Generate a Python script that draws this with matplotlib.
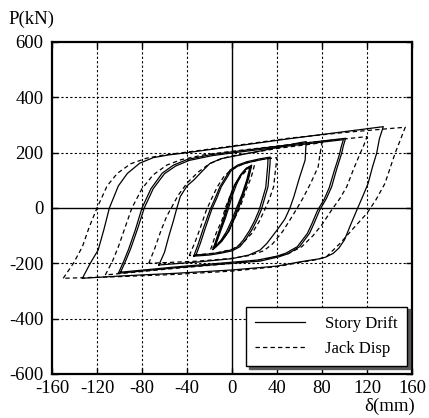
import matplotlib
matplotlib.use("Agg")
from matplotlib import pyplot as plt

plt.rcParams['font.family'] = ['Liberation Serif', 'DejaVu Serif']
plt.rcParams['axes.unicode_minus'] = False

# Story drift loops (mm, kN), each traced from the negative peak, up to the
# positive peak and back down
drift_a_x = [-133, -126, -119, -114, -109, -101, -93, -82, -70, -56, -40, 0, 50, 100, 134.5,
             131, 128.6, 125, 121, 116, 111, 105, 100, 95, 90, 83, 77, 60, 40, 0, -50, -100, -133]
drift_a_p = [-254, -200, -152, -80, 0, 80, 125, 162, 182, 192, 200, 222, 250, 276, 294,
             250, 198, 150, 89, 40, -7, -65, -115, -145, -164, -178, -184, -195, -210, -224, -236, -246, -254]

drift_b1_x = [-101, -96, -92, -86, -80, -72, -62, -52, -40, -20, 0, 50, 101,
              99, 97.5, 93, 88.6, 84, 78, 73, 69, 60, 50, 42, 25, 0, -50, -101]
drift_b1_p = [-236, -190, -150, -80, 0, 70, 126, 155, 175, 192, 203, 228, 252,
              225, 198, 140, 77, 35, -7, -55, -91, -140, -165, -176, -192, -200, -216, -236]
drift_b2_x = [-99, -94, -90, -84, -78, -70, -60, -50, -38, -18, 0, 50, 99,
              97, 95.5, 91, 86.5, 82, 76, 71, 67, 58, 48, 40, 23, 0, -50, -99]
drift_b2_p = [-232, -186, -146, -76, 0, 70, 124, 152, 172, 189, 199, 224, 247,
              220, 193, 136, 74, 32, -9, -57, -92, -140, -163, -174, -188, -196, -213, -232]

drift_c_x = [-65, -60, -56, -52, -49, -46, -40, -34, -26, -19.6, -10, 0, 30, 60, 66,
             65.5, 65, 60, 55, 51.5, 47, 40, 31, 25, 15, 0, -30, -65]
drift_c_p = [-206, -160, -100, -45, 0, 41, 80, 101, 135, 161, 178, 186, 210, 236, 240,
             210, 173, 110, 41, 0, -40, -80, -128, -152, -170, -183, -195, -206]

drift_d1_x = [-34, -30, -26, -19.6, -15, -10.7, -5, -1.8, 5, 13, 25, 34,
              33.8, 32, 29, 26, 22, 17.5, 12, 7, 0, -10.7, -20, -34]
drift_d1_p = [-174, -130, -80, -7, 35, 77, 115, 137, 155, 167, 178, 184,
              160, 77, 35, -7, -45, -80, -115, -140, -155, -164, -170, -174]
drift_d2_x = [-32, -28, -24, -18, -13.5, -9.5, -4, -1, 5, 13, 24, 32,
              31.8, 30, 27, 24, 20, 15.5, 10, 5, -2, -11, -20, -32]
drift_d2_p = [-170, -126, -76, -5, 36, 77, 113, 134, 151, 163, 173, 179,
              155, 74, 32, -9, -47, -82, -116, -140, -153, -161, -166, -170]

drift_e1_x = [-17, -12, -8, -5, -2, 2, 7, 12, 17.5, 15, 11, 6, 2, -3, -9, -14, -17]
drift_e1_p = [-150, -90, -45, 0, 40, 80, 115, 140, 155, 110, 60, 0, -40, -85, -120, -140, -150]
drift_e2_x = [-16, -11, -7, -4, -1, 3, 8, 13, 17, 14, 10, 5, 1, -4, -10, -14, -16]
drift_e2_p = [-146, -85, -40, 0, 45, 88, 122, 145, 152, 105, 55, 0, -45, -90, -122, -138, -146]
drift_e3_x = [-15, -10, -6, -3, 0, 4, 8, 12, 16, 13, 9, 4, 0, -5, -10, -13, -15]
drift_e3_p = [-140, -82, -38, 0, 42, 85, 118, 138, 148, 100, 50, 0, -42, -86, -118, -132, -140]

# Jack displacement loops
jack_a_x = [-150, -141, -133, -127, -120, -111, -102, -90, -76, -60, -40, 0, 50, 100, 154,
            150, 145, 141, 136, 128, 120, 108, 96, 84, 76, 60, 40, 0, -50, -100, -150]
jack_a_p = [-254, -200, -140, -70, 0, 80, 125, 160, 180, 192, 202, 224, 252, 273, 292,
            250, 198, 150, 89, 30, -19, -73, -128, -176, -186, -197, -212, -228, -240, -248, -254]

jack_b_x = [-112.6, -106, -101, -95, -89, -80, -70, -58, -45, -25, 0, 60, 120,
            117, 114, 108, 102, 96, 88.6, 80, 72, 62, 50, 30, 0, -50, -112.6]
jack_b_p = [-242, -190, -140, -70, 0, 70, 120, 155, 175, 192, 205, 233, 258,
            225, 198, 140, 77, 35, -7, -60, -100, -140, -165, -185, -200, -218, -242]

jack_c_x = [-74, -69, -63, -58, -54, -48, -40, -30, -20, -8, 0, 40, 80,
            78, 76.6, 70, 63, 58, 52, 45, 36, 28, 15, 0, -30, -74]
jack_c_p = [-200, -150, -80, -30, 0, 45, 90, 130, 160, 180, 188, 215, 236,
            190, 149, 90, 35, 0, -40, -85, -130, -155, -172, -182, -192, -200]

jack_d_x = [-38, -33, -28, -23, -18, -13, -7, 0, 10, 25, 40,
            39, 37, 33, 29, 24, 18, 10, 0, -15, -38]
jack_d_p = [-172, -125, -70, -10, 35, 77, 115, 140, 160, 175, 182,
            150, 77, 30, -7, -50, -90, -125, -150, -163, -172]

jack_e_x = [-19, -14, -9, -6, -2, 2, 8, 14, 20, 17, 12, 7, 2, -3, -10, -16, -19]
jack_e_p = [-150, -90, -45, 0, 40, 80, 115, 140, 155, 110, 60, 0, -40, -85, -120, -140, -150]

x_ticks = [-160, -120, -80, -40, 0, 40, 80, 120, 160]
y_ticks = [-600, -400, -200, 0, 200, 400, 600]

drift_loops = [(drift_a_x, drift_a_p), (drift_b1_x, drift_b1_p), (drift_b2_x, drift_b2_p),
               (drift_c_x, drift_c_p), (drift_d1_x, drift_d1_p), (drift_d2_x, drift_d2_p),
               (drift_e1_x, drift_e1_p), (drift_e2_x, drift_e2_p), (drift_e3_x, drift_e3_p)]
jack_loops = [(jack_a_x, jack_a_p), (jack_b_x, jack_b_p), (jack_c_x, jack_c_p),
              (jack_d_x, jack_d_p), (jack_e_x, jack_e_p)]

fig = plt.figure(figsize=(4.29, 4.18), dpi=100)
ax = fig.add_axes([52 / 429, 44 / 418, 360 / 429, 332 / 418])

# dotted grid, solid zero axes
for xv in x_ticks[1:-1]:
    if xv == 0:
        ax.axvline(0, color='black', lw=1.0, zorder=1)
    else:
        ax.axvline(xv, color='black', lw=0.8, ls=(0, (2, 2)), zorder=1)
for yv in y_ticks[1:-1]:
    if yv == 0:
        ax.axhline(0, color='black', lw=1.0, zorder=1)
    else:
        ax.axhline(yv, color='black', lw=0.8, ls=(0, (2, 2)), zorder=1)

for lx, lp in jack_loops:
    ax.plot(lx, lp, color='black', lw=0.9, ls=(0, (3.5, 2.5)), zorder=2)
for lx, lp in drift_loops:
    ax.plot(lx, lp, color='black', lw=0.9, zorder=3)

h_drift, = ax.plot([], [], color='black', lw=0.9, label='Story Drift')
h_jack, = ax.plot([], [], color='black', lw=0.9, ls=(0, (3.5, 2.5)), label='Jack Disp')

ax.set_xlim(-160, 160)
ax.set_ylim(-600, 600)
ax.set_xticks(x_ticks)
ax.set_yticks(y_ticks)
ax.tick_params(direction='in', length=4, width=1, top=True, right=True,
               labelsize=13.5)
ax.tick_params(axis='x', pad=4)
ax.tick_params(axis='y', pad=6)
for sp in ax.spines.values():
    sp.set_linewidth(1.6)

leg = ax.legend(handles=[h_drift, h_jack], loc='lower right',
                bbox_to_anchor=(0.986, 0.024), borderaxespad=0,
                fontsize=12, fancybox=False, framealpha=1, edgecolor='black',
                handlelength=3.0, handletextpad=1.2, borderpad=0.55, labelspacing=0.55,
                shadow={'ox': 2, 'oy': -2, 'facecolor': '0.35', 'edgecolor': '0.35', 'alpha': 1})
leg.get_frame().set_linewidth(1.0)

fig.text(31 / 429, 1 - 19 / 418, 'P(kN)', fontsize=13.5, ha='center', va='center')
fig.text(390 / 429, 1 - 406 / 418, 'δ(mm)', fontsize=13.5, ha='center', va='center')

fig.savefig('out.png', dpi=100)
